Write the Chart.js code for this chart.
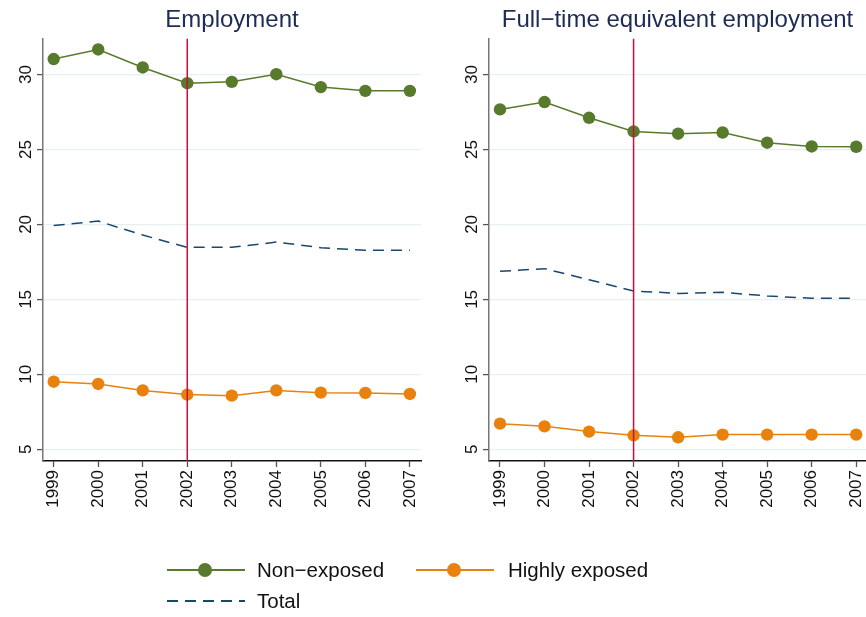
<!DOCTYPE html>
<html>
<head>
<meta charset="utf-8">
<script src="https://cdn.jsdelivr.net/npm/chart.js@4.4.1/dist/chart.umd.min.js"></script>
<style>
  body { margin: 0; background: #fff; width: 866px; height: 617px; overflow: hidden; position: relative; font-family: "Liberation Sans", Arial, sans-serif; }
  canvas { position: absolute; top: 0; }
  #c1 { left: 0; }
  #c2 { left: 433px; }
  #legLines { position: absolute; left: 0; top: 0; }
  .leg { position: absolute; font-size: 20.5px; color: #111; line-height: 1; white-space: nowrap; }
</style>
</head>
<body>
<canvas id="c1" width="433" height="530"></canvas>
<canvas id="c2" width="433" height="530"></canvas>
<svg id="legLines" width="866" height="617"></svg>
<div class="leg" style="left:257px;top:560px">Non−exposed</div>
<div class="leg" style="left:508px;top:560px">Highly exposed</div>
<div class="leg" style="left:257px;top:591px">Total</div>
<script>
// values
var years = [1999, 2000, 2001, 2002, 2003, 2004, 2005, 2006, 2007];
var yTicks = [5, 10, 15, 20, 25, 30];
var markerYear = 2002;

var empNon = [31.03, 31.67, 30.47, 29.42, 29.51, 30.02, 29.16, 28.91, 28.91];
var empTotal = [19.93, 20.22, 19.29, 18.47, 18.47, 18.82, 18.45, 18.27, 18.27];
var empHigh = [9.51, 9.36, 8.93, 8.65, 8.58, 8.93, 8.78, 8.76, 8.69];

var fteNon = [27.67, 28.16, 27.11, 26.2, 26.05, 26.13, 25.45, 25.2, 25.18];
var fteTotal = [16.87, 17.05, 16.31, 15.56, 15.4, 15.47, 15.23, 15.07, 15.07];
var fteHigh = [6.71, 6.53, 6.18, 5.93, 5.8, 5.98, 5.98, 5.98, 5.98];

var green = '#587a2c', orange = '#e8820c', navy = '#1a476f', red = '#c8103a';

var toPoints = function (vals) {
  return years.map(function (y, i) { return { x: y, y: vals[i] } })
}

var vlinePlugin = {
  id: 'vline',
  afterDatasetsDraw: function (chart) {
    var x = chart.scales.x.getPixelForValue(markerYear)
    var a = chart.chartArea
    var ctx = chart.ctx
    ctx.save()
    ctx.strokeStyle = red
    ctx.lineWidth = 1.5
    ctx.beginPath()
    ctx.moveTo(x, a.top)
    ctx.lineTo(x, a.bottom)
    ctx.stroke()
    ctx.restore()
  }
}

function makeChart(id, title, non, high, total, yWidth, xMin, xMax, padRight) {
  var canvas = document.getElementById(id)
  var H = canvas.height
  return new Chart(canvas.getContext('2d'), {
    type: 'line',
    data: {
      datasets: [
        { data: toPoints(non), borderColor: green, backgroundColor: green, borderWidth: 1.5, pointRadius: 6.2, pointBorderWidth: 0 },
        { data: toPoints(high), borderColor: orange, backgroundColor: orange, borderWidth: 1.5, pointRadius: 6.2, pointBorderWidth: 0 },
        { data: toPoints(total), borderColor: navy, borderWidth: 1.5, borderDash: [11, 7], pointRadius: 0 }
      ]
    },
    options: {
      responsive: false,
      animation: false,
      layout: { autoPadding: false, padding: { left: 0, right: padRight, top: 0, bottom: 0 } },
      plugins: {
        legend: { display: false },
        tooltip: { enabled: false },
        title: {
          display: true, text: title, fullSize: false, color: '#1e2b55',
          font: { family: '"Liberation Sans", Arial, sans-serif', size: 24, weight: 'normal' },
          padding: { top: 6, bottom: 4 }
        }
      },
      scales: {
        x: {
          type: 'linear', min: xMin, max: xMax,
          afterBuildTicks: function (s) { s.ticks = years.map(function (v) { return { value: v } }) },
          afterFit: function (s) { s.height = H - 461; s.paddingLeft = 0; s.paddingRight = 0 },
          ticks: {
            minRotation: 90, maxRotation: 90, padding: 3, color: '#111',
            font: { family: '"Liberation Sans", Arial, sans-serif', size: 17 },
            callback: function (v) { return String(v) }
          },
          grid: { drawOnChartArea: false, tickLength: 6, tickColor: '#555', tickWidth: 1.3 },
          border: { color: '#111', width: 1.5 }
        },
        y: {
          min: 4.22, max: 32.38,
          afterBuildTicks: function (s) { s.ticks = yTicks.map(function (v) { return { value: v } }) },
          afterFit: function (s) { s.width = yWidth; s.paddingTop = 0; s.paddingBottom = 0 },
          ticks: {
            minRotation: 90, maxRotation: 90, crossAlign: 'center', padding: 1, color: '#111',
            font: { family: '"Liberation Sans", Arial, sans-serif', size: 17 }
          },
          grid: { color: '#e6eff1', lineWidth: 1.2, tickLength: 6, tickColor: '#555', tickWidth: 1.3 },
          border: { color: '#777', width: 1.5 }
        }
      }
    },
    plugins: [vlinePlugin]
  })
}

makeChart('c1', 'Employment', empNon, empHigh, empTotal, 43, 1998.76, 2007.25, 12)
makeChart('c2', 'Full−time equivalent employment', fteNon, fteHigh, fteTotal, 56, 1998.753, 2007.22, 0)

// legend samples
var svg = document.getElementById('legLines')
var ns = 'http://www.w3.org/2000/svg'
function addLine(x1, x2, y, color, dash) {
  var l = document.createElementNS(ns, 'line')
  l.setAttribute('x1', x1); l.setAttribute('x2', x2)
  l.setAttribute('y1', y); l.setAttribute('y2', y)
  l.setAttribute('stroke', color); l.setAttribute('stroke-width', 2)
  if (dash) l.setAttribute('stroke-dasharray', dash)
  svg.appendChild(l)
}
function addDot(x, y, color) {
  var c = document.createElementNS(ns, 'circle')
  c.setAttribute('cx', x); c.setAttribute('cy', y); c.setAttribute('r', 7)
  c.setAttribute('fill', color)
  svg.appendChild(c)
}
addLine(167, 245, 570, green); addDot(205, 570, green)
addLine(416, 494, 570, orange); addDot(454, 570, orange)
addLine(167, 245, 601, navy, '11 7')
</script>
</body>
</html>
